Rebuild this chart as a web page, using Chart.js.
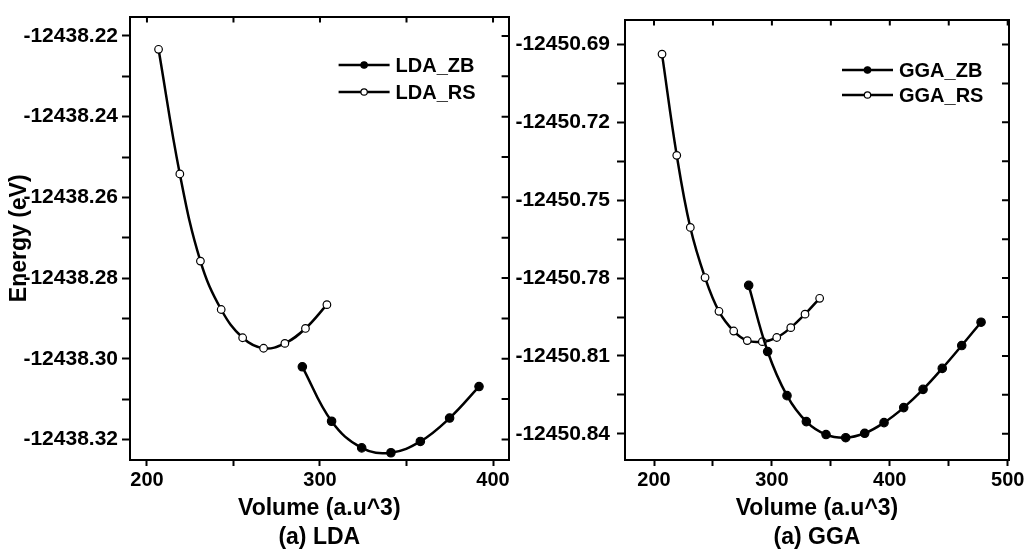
<!DOCTYPE html>
<html>
<head>
<meta charset="utf-8">
<script src="https://cdn.jsdelivr.net/npm/chart.js@4.4.1/dist/chart.umd.min.js"></script>
<style>
html,body{margin:0;padding:0;background:#fff;}
.wrap{position:absolute;top:0;width:514px;height:558px;}
#w1{left:0;}
#w2{left:514px;}
</style>
</head>
<body>
<div class="wrap" id="w1"><canvas id="ldaChart"></canvas></div>
<div class="wrap" id="w2"><canvas id="ggaChart"></canvas></div>
<script>
// values
const ldaZbVol=[289.8,306.7,324.1,341.0,358.0,374.9,391.9];
const ldaZbE=[-12438.3020,-12438.3155,-12438.3221,-12438.3233,-12438.3205,-12438.3147,-12438.3069];
const ldaRsVol=[206.7,219.0,230.9,242.9,255.3,267.4,279.7,291.6,304.0];
const ldaRsE=[-12438.2233,-12438.2542,-12438.2758,-12438.2878,-12438.2948,-12438.2974,-12438.2962,-12438.2925,-12438.2866];

const ggaZbVol=[280.3,296.4,312.8,329.2,345.9,362.6,378.7,395.1,411.8,428.2,444.5,461.0,477.4];
const ggaZbE=[-12450.7828,-12450.8083,-12450.8253,-12450.8353,-12450.8403,-12450.8415,-12450.8398,-12450.8357,-12450.8299,-12450.8229,-12450.8148,-12450.8060,-12450.7970];
const ggaRsVol=[206.8,219.3,230.8,243.3,255.1,267.6,279.1,291.9,304.1,316.0,328.1,340.5];
const ggaRsE=[-12450.6937,-12450.7327,-12450.7605,-12450.7798,-12450.7928,-12450.8004,-12450.8041,-12450.8045,-12450.8029,-12450.7991,-12450.7939,-12450.7878];

const ldaYLabels=['-12438.22','-12438.24','-12438.26','-12438.28','-12438.30','-12438.32'];
const ggaYLabels=['-12450.69','-12450.72','-12450.75','-12450.78','-12450.81','-12450.84'];
const ldaXLabels=['200','300','400'];
const ggaXLabels=['200','300','400','500'];

const FONT='"Liberation Sans", Arial, sans-serif';

// major ticks plus a minor one half way between each pair
function tickValues(labels){
  const v=labels.map(Number);const out=[];
  v.forEach((x,i)=>{out.push(x);if(i<v.length-1) out.push((x+v[i+1])/2);});
  return out;
}
function labelFor(labels){
  return val=>{const l=labels.find(s=>Math.abs(Number(s)-val)<1e-6);return l===undefined?'':l;};
}

const mirrorTicks={id:'mirrorTicks',afterDraw(chart){
  const {ctx,chartArea:a,scales:{x,y}}=chart;
  ctx.save();ctx.strokeStyle='#000';ctx.lineWidth=2;ctx.beginPath();
  x.ticks.forEach(t=>{const px=x.getPixelForValue(t.value);ctx.moveTo(px,a.top);ctx.lineTo(px,a.top+6);});
  y.ticks.forEach(t=>{const py=y.getPixelForValue(t.value);ctx.moveTo(a.right,py);ctx.lineTo(a.right-7,py);});
  ctx.stroke();ctx.restore();
}};

const insetLegend={id:'insetLegend',afterDraw(chart,args,o){
  const {ctx,chartArea:a}=chart;
  ctx.save();
  chart.data.datasets.forEach((ds,i)=>{
    const y=o.top+i*o.gap;const x0=a.right-o.right;
    ctx.strokeStyle='#000';ctx.lineWidth=2.5;
    ctx.beginPath();ctx.moveTo(x0,y);ctx.lineTo(x0+o.len,y);ctx.stroke();
    ctx.beginPath();ctx.arc(x0+o.len/2,y,3.2,0,Math.PI*2);
    ctx.fillStyle=ds.pointBackgroundColor;ctx.fill();ctx.lineWidth=1.2;ctx.stroke();
    ctx.fillStyle='#000';ctx.font='bold 20px '+FONT;ctx.textBaseline='middle';
    ctx.fillText(ds.label,x0+o.len+6,y+1);
  });
  ctx.restore();
}};

function series(label,xs,ys,filled){
  return {label,data:xs.map((x,i)=>({x,y:ys[i]})),borderColor:'#000',borderWidth:2.5,tension:0.4,
    pointRadius:filled?4.2:3.8,pointBorderWidth:1.2,pointBorderColor:'#000',
    pointBackgroundColor:filled?'#000':'#fff'};
}

function makeChart(id,cfg){
  return new Chart(document.getElementById(id),{
    type:'line',
    data:{datasets:[series(cfg.zbName,cfg.zbX,cfg.zbY,true),series(cfg.rsName,cfg.rsX,cfg.rsY,false)]},
    options:{
      responsive:true,maintainAspectRatio:false,animation:false,
      layout:{padding:{top:12,right:cfg.padRight,left:0,bottom:0}},
      plugins:{legend:{display:false},tooltip:{enabled:false},
        insetLegend:cfg.legend},
      scales:{
        x:{type:'linear',position:'bottom',min:cfg.xMin,max:cfg.xMax,
          border:{display:true,width:2,color:'#000'},
          grid:{drawOnChartArea:false,tickLength:6,tickColor:'#000',tickWidth:2},
          afterBuildTicks:s=>{s.ticks=tickValues(cfg.xLabels).map(value=>({value}));},
          afterFit:s=>{s.height=98;},
          ticks:{color:'#000',font:{family:FONT,size:20,weight:'bold'},padding:2,autoSkip:false,maxRotation:0,callback:labelFor(cfg.xLabels)},
          title:{display:true,text:['Volume (a.u^3)',cfg.caption],color:'#000',
            font:{family:FONT,size:23,weight:'bold',lineHeight:1.25},padding:{top:0,bottom:6}}},
        y:{type:'linear',position:'left',min:cfg.yMin,max:cfg.yMax,
          border:{display:true,width:2,color:'#000'},
          grid:{drawOnChartArea:false,tickLength:8,tickColor:'#000',tickWidth:2},
          afterBuildTicks:s=>{s.ticks=tickValues(cfg.yLabels).map(value=>({value}));},
          afterFit:s=>{s.width=cfg.yWidth;},
          ticks:{color:'#000',font:{family:FONT,size:21,weight:'bold'},padding:cfg.yPad,autoSkip:false,callback:labelFor(cfg.yLabels)},
          title:{display:cfg.yTitle,text:'Energy (eV)',color:'#000',
            font:{family:FONT,size:23,weight:'bold',lineHeight:1.2},padding:{top:6,bottom:0}}},
        x2:{type:'linear',position:'top',min:cfg.xMin,max:cfg.xMax,
          border:{display:true,width:2,color:'#000'},grid:{display:false,drawTicks:false},
          ticks:{display:false},afterFit:s=>{s.height=0;}},
        y2:{type:'linear',position:'right',min:cfg.yMin,max:cfg.yMax,
          border:{display:true,width:2,color:'#000'},grid:{display:false,drawTicks:false},
          ticks:{display:false},afterFit:s=>{s.width=0;}}
      }
    },
    plugins:[mirrorTicks,insetLegend]
  });
}

makeChart('ldaChart',{zbName:'LDA_ZB',rsName:'LDA_RS',zbX:ldaZbVol,zbY:ldaZbE,rsX:ldaRsVol,rsY:ldaRsE,
  xMin:190.2,xMax:409,yMin:-12438.3251,yMax:-12438.2152,xLabels:ldaXLabels,yLabels:ldaYLabels,
  yWidth:130,yPad:4,padRight:3,yTitle:true,caption:'(a) LDA',
  legend:{top:65,gap:27,right:170,len:51}});

makeChart('ggaChart',{zbName:'GGA_ZB',rsName:'GGA_RS',zbX:ggaZbVol,zbY:ggaZbE,rsX:ggaRsVol,rsY:ggaRsE,
  xMin:175.4,xMax:501.1,yMin:-12450.8501,yMax:-12450.6804,xLabels:ggaXLabels,yLabels:ggaYLabels,
  yWidth:111,yPad:7,padRight:19,yTitle:false,caption:'(a) GGA',
  legend:{top:70,gap:25,right:167,len:51}});
</script>
</body>
</html>
